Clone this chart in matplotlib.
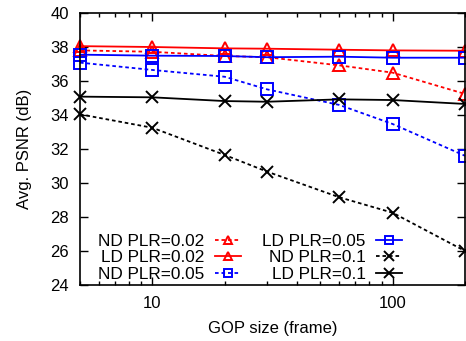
import numpy as np
import matplotlib
matplotlib.use("Agg")
import matplotlib.pyplot as plt
from matplotlib.ticker import LogLocator, NullFormatter, FixedLocator, FixedFormatter

plt.rcParams['font.family'] = ['Liberation Sans', 'DejaVu Sans']
plt.rcParams['font.size'] = 12

# GOP sizes (frames)
gop = [5, 10, 20, 30, 60, 100, 200]

nd_002 = [37.8, 37.72, 37.47, 37.4, 36.92, 36.49, 35.24]
ld_002 = [38.05, 38.0, 37.92, 37.9, 37.84, 37.8, 37.78]
nd_005 = [37.08, 36.65, 36.25, 35.51, 34.59, 33.47, 31.6]
ld_005 = [37.55, 37.49, 37.47, 37.4, 37.43, 37.37, 37.37]
nd_01 = [34.04, 33.25, 31.65, 30.67, 29.16, 28.25, 26.0]
ld_01 = [35.08, 35.04, 34.82, 34.78, 34.92, 34.88, 34.65]

labels = ['ND PLR=0.02', 'LD PLR=0.02', 'ND PLR=0.05',
          'LD PLR=0.05', 'ND PLR=0.1', 'LD PLR=0.1']

W, H = 466, 341
fig = plt.figure(figsize=(W / 100, H / 100), dpi=100)
ax = fig.add_axes([80 / W, 1 - 285 / H, (465 - 80) / W, (285 - 13) / H])

dash = (0, (2.0, 1.6))
lw = 1.3
series = [
    (nd_002, 'red', dash, '^', 8),
    (ld_002, 'red', '-', '^', 8),
    (nd_005, 'blue', dash, 's', 8),
    (ld_005, 'blue', '-', 's', 8),
    (nd_01, 'black', dash, 'x', 9),
    (ld_01, 'black', '-', 'x', 9),
]
for (vals, c, ls, m, ms), lab in zip(series, labels):
    ax.plot(gop, vals, color=c, linestyle=ls, linewidth=lw, marker=m,
            markersize=ms, markerfacecolor='none', markeredgecolor=c,
            markeredgewidth=1.4, label=lab, clip_on=False)

ax.set_xscale('log')
ax.set_xlim(5, 200)
ax.set_ylim(24, 40)
ax.set_yticks(np.arange(24, 41, 2))
ax.xaxis.set_major_locator(FixedLocator([10, 100]))
ax.xaxis.set_major_formatter(FixedFormatter(['10', '100']))
ax.xaxis.set_minor_locator(LogLocator(base=10, subs=np.arange(2, 10)))
ax.xaxis.set_minor_formatter(NullFormatter())
ax.tick_params(which='both', direction='in', top=True, right=True)
ax.tick_params(which='major', length=6, width=1, pad=8)
ax.tick_params(which='minor', length=3, width=1)
ax.tick_params(axis='y', pad=8)
for s in ax.spines.values():
    s.set_linewidth(1.2)

ax.set_xlabel('GOP size (frame)', labelpad=7)
ax.set_ylabel('Avg. PSNR (dB)', labelpad=13)

leg = ax.legend(ncol=2, loc='lower right', bbox_to_anchor=(0.854, -0.015),
                borderaxespad=0, frameon=False, markerfirst=False,
                handlelength=1.5, handletextpad=0.6, columnspacing=1.25,
                labelspacing=0.1, markerscale=0.8, fontsize=12.4)

fig.savefig('out.png', dpi=100)
